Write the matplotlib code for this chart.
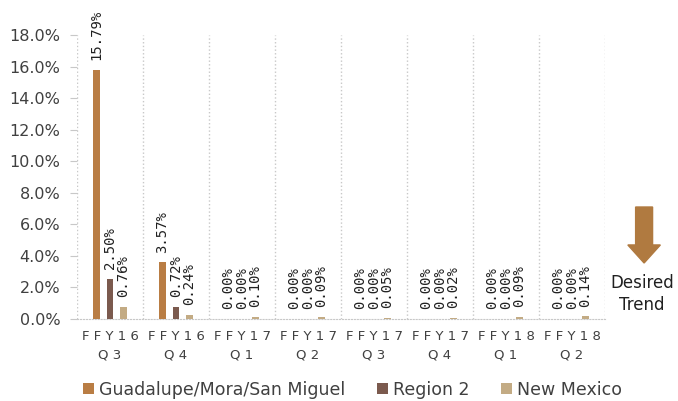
import numpy as np
import matplotlib.pyplot as plt
from matplotlib.patches import FancyArrow

#----------data-----------
quarters = ['F F Y 1 6\nQ 3', 'F F Y 1 6\nQ 4', 'F F Y 1 7\nQ 1', 'F F Y 1 7\nQ 2',
            'F F Y 1 7\nQ 3', 'F F Y 1 7\nQ 4', 'F F Y 1 8\nQ 1', 'F F Y 1 8\nQ 2']
guadalupe = [15.79, 3.57, 0.00, 0.00, 0.00, 0.00, 0.00, 0.00]
region2 = [2.50, 0.72, 0.00, 0.00, 0.00, 0.00, 0.00, 0.00]
new_mexico = [0.76, 0.24, 0.10, 0.09, 0.05, 0.02, 0.09, 0.14]
series_names = ['Guadalupe/Mora/San Miguel', 'Region 2', 'New Mexico']
yticks = [0, 2, 4, 6, 8, 10, 12, 14, 16, 18]

colors = ['#B97D44', '#7B5A4E', '#C3AB84']
txt_col = '#404040'
grid_col = '#C8C8C8'

fig = plt.figure(figsize=(6.78, 4.01), dpi=100)
ax = fig.add_axes([0.1136, 0.2057, 0.7788, 0.707])

x = np.arange(len(quarters))
width = 0.1
offsets = [-0.205, 0, 0.205]
all_series = [guadalupe, region2, new_mexico]

for s, (vals, off) in enumerate(zip(all_series, offsets)):
    ax.bar(x + off, vals, width, color=colors[s], label=series_names[s], zorder=3)
    for xi, v in zip(x, vals):
        ax.annotate('%.2f%%' % v, (xi + off, v), xytext=(0, 7), textcoords='offset points',
                    rotation=90, ha='center', va='bottom', fontsize=10,
                    family='DejaVu Sans Mono', color='#202020', annotation_clip=False)

ax.set_xlim(-0.5, len(quarters) - 0.5)
ax.set_ylim(0, 18)
ax.set_yticks(yticks)
ax.set_yticklabels(['%.1f%%' % t for t in yticks], fontsize=11.5, color=txt_col)
ax.set_xticks(x)
ax.set_xticklabels(quarters, fontsize=9.5, color=txt_col, linespacing=1.6)
ax.tick_params(axis='x', length=0, pad=8)
ax.tick_params(axis='y', length=5, color=grid_col, pad=7)

# vertical dotted separators between quarters
for b in np.arange(-0.5, len(quarters) + 0.5, 1):
    ax.axvline(b, color=grid_col, linestyle=':', linewidth=1, zorder=1)

for side in ['top', 'right', 'left']:
    ax.spines[side].set_visible(False)
ax.spines['bottom'].set_color(grid_col)
ax.spines['bottom'].set_linestyle(':')

# desired trend arrow
fig.patches.append(FancyArrow(0.95, 1 - 207 / 401, 0, -56 / 401, width=0.025, head_width=0.048,
                              head_length=0.045, length_includes_head=True,
                              color='#B07A40', transform=fig.transFigure, figure=fig))
fig.text(0.947, 1 - 294 / 401, 'Desired\nTrend', ha='center', va='center', fontsize=12,
         color='#202020', linespacing=1.35)

fig.legend(loc='center', bbox_to_anchor=(0.52, 1 - 390 / 401), ncol=3, frameon=False,
           fontsize=12.5, handlelength=0.6, handleheight=0.6, handletextpad=0.3,
           columnspacing=1.85, labelcolor=txt_col)

fig.savefig('out.png', dpi=100)
